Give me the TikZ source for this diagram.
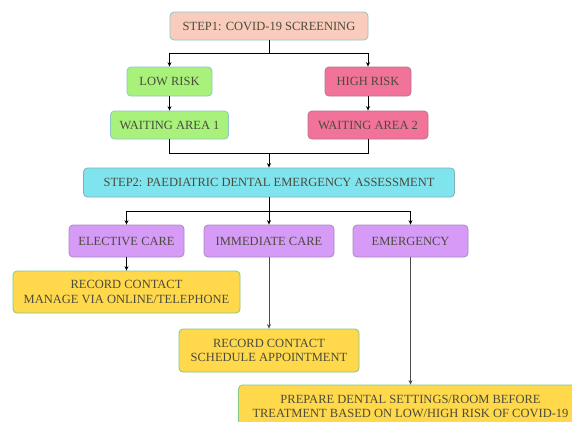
\documentclass[tikz,border=0pt]{standalone}
\usepackage{fontspec}
\setmainfont{Liberation Serif}
\usetikzlibrary{arrows.meta}
\definecolor{peach}{HTML}{F9CCBD}
\definecolor{lowgreen}{HTML}{A8F27C}
\definecolor{highpink}{HTML}{F1739A}
\definecolor{stepcyan}{HTML}{80E4EE}
\definecolor{carevio}{HTML}{D69AF7}
\definecolor{actyellow}{HTML}{FFD94B}
\definecolor{txtgray}{HTML}{4B4B3C}
\begin{document}
\begin{tikzpicture}[x=1pt, y=-1pt,
	every node/.style = {shape=rectangle, rounded corners=4pt, line width=0.8pt, align=center,
		inner sep=0pt, text=txtgray, font=\fontsize{12.5}{14.5}\selectfont},
	stepbox/.style = {fill=#1, draw=#1!70!black!80},
	arr/.style = {-{Stealth[length=4.5pt,width=4pt]}},
	line/.style = {line width=0.8pt, black}]
	
	\clip (0,0) rectangle (572,421);
	\fill[white] (0,0) rectangle (572,421);
	
	% step 1: screening
	\node[stepbox=peach, draw=teal!45, minimum width=198pt, minimum height=28pt] (step1) at (269,26) {STEP1: COVID-19 SCREENING};
	\node[stepbox=lowgreen, draw=teal!45, minimum width=85pt, minimum height=29pt] (low) at (169.5,81.5) {LOW RISK};
	\node[stepbox=highpink, minimum width=86pt, minimum height=29pt] (high) at (368,81.5) {HIGH RISK};
	\node[stepbox=lowgreen, draw=teal!45, minimum width=118pt, minimum height=28pt] (wait1) at (169.5,125) {WAITING AREA 1};
	\node[stepbox=highpink, minimum width=120pt, minimum height=28pt] (wait2) at (368,125) {WAITING AREA 2};
	
	% step 2: assessment
	\node[stepbox=stepcyan, minimum width=371pt, minimum height=29pt] (step2) at (269,182.5) {STEP2: PAEDIATRIC DENTAL EMERGENCY ASSESSMENT};
	\node[stepbox=carevio, minimum width=115pt, minimum height=32pt] (elective) at (126.5,241) {ELECTIVE CARE};
	\node[stepbox=carevio, minimum width=130pt, minimum height=32pt] (immediate) at (269,241) {IMMEDIATE CARE};
	\node[stepbox=carevio, minimum width=115pt, minimum height=32pt] (emergency) at (410.5,241) {EMERGENCY};
	
	% actions
	\node[stepbox=actyellow, draw=green!40!gray!70, minimum width=227pt, minimum height=42pt] (rec1) at (126.5,292) {RECORD CONTACT\\MANAGE VIA ONLINE/TELEPHONE};
	\node[stepbox=actyellow, draw=green!40!gray!70, minimum width=180pt, minimum height=43pt] (rec2) at (269,350.5) {RECORD CONTACT\\SCHEDULE APPOINTMENT};
	\node[stepbox=actyellow, draw=green!40!gray!70, minimum width=344pt, minimum height=43pt] (rec3) at (410.5,406.5) {PREPARE DENTAL SETTINGS/ROOM BEFORE\\TREATMENT BASED ON LOW/HIGH RISK OF COVID-19};
	
	\coordinate (fork1) at (269,53);
	\coordinate (join1) at (269,153);
	\coordinate (fork2) at (269,211);
	
	\draw[line] (step1) -- (fork1);
	\draw[line, arr] (fork1) -| (low);
	\draw[line, arr] (fork1) -| (high);
	\draw[line, arr] (low) -- (wait1);
	\draw[line, arr] (high) -- (wait2);
	\draw[line] (wait1) |- (join1);
	\draw[line] (wait2) |- (join1);
	\draw[line, arr] (join1) -- (step2);
	\draw[line] (step2) -- (fork2);
	\draw[line, arr] (fork2) -| (elective);
	\draw[line, arr] (fork2) -- (immediate);
	\draw[line, arr] (fork2) -| (emergency);
	\draw[line, arr] (elective) -- (rec1);
	\draw[line, arr, gray!60!black] (immediate) -- (rec2);
	\draw[line, arr, gray!60!black] (emergency) -- (rec3);
\end{tikzpicture}
\end{document}
